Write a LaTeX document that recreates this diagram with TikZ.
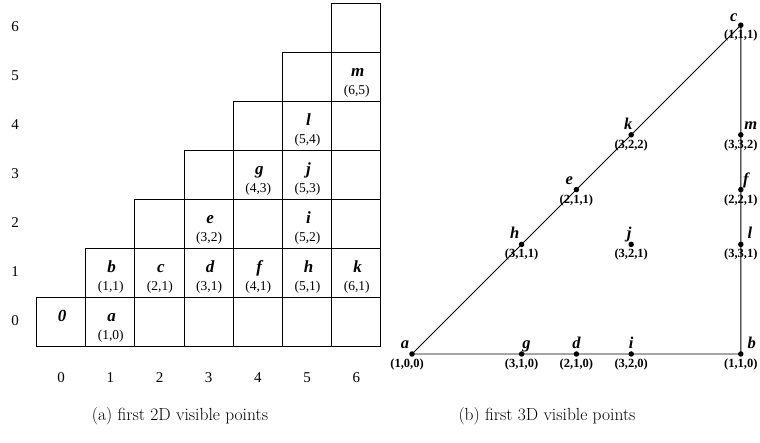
\documentclass[tikz,border=0pt]{standalone}
\usepackage{fontspec}
\newfontfamily\tnr{Liberation Serif}
\begin{document}
\begin{tikzpicture}[x=1pt,y=-1pt,
  cellbox/.style={draw, line width=1pt},
  axlbl/.style={font=\tnr\fontsize{15}{15}\selectfont, anchor=base, inner sep=0pt},
  ptletter/.style={font=\tnr\bfseries\itshape\fontsize{17}{17}\selectfont, anchor=base, inner sep=0pt},
  ptcoord/.style={font=\tnr\fontsize{13.5}{13.5}\selectfont, anchor=base, inner sep=0pt},
  dot/.style={circle, fill=black, inner sep=0pt, minimum size=5.5pt},
  vlet/.style={font=\tnr\bfseries\itshape\fontsize{16.5}{16.5}\selectfont, anchor=base, inner sep=0pt},
  vcoord/.style={font=\tnr\bfseries\fontsize{12.5}{12.5}\selectfont, anchor=base, inner sep=0pt},
  triline/.style={line width=0.9pt},
  captext/.style={font=\fontsize{17.5}{17.5}\selectfont, anchor=base, inner sep=0pt}]
\useasboundingbox (0,0) rectangle (760,443);
% ---------- (a) 2D grid ----------
\foreach \r in {0,...,6} {
  \foreach \c in {\r,...,6} {
    \draw[cellbox] ({36.5+49.2*\c},{346.5-49*(\r+1)}) rectangle +(49.2,49);
  }
}
\foreach \r in {0,...,6} {
  \node[axlbl] (row\r) at (15,{346.5-49*(\r+1)+28.5}) {\r};
}
\foreach \c in {0,...,6} {
  \node[axlbl] (col\c) at ({36.5+49.2*\c+24.6},382) {\c};
}
\node[ptletter] (zero) at (62,321.5) {0};
\foreach \c/\r/\l in {1/0/a,1/1/b,2/1/c,3/1/d,4/1/f,5/1/h,6/1/k,3/2/e,5/2/i,4/3/g,5/3/j,5/4/l,6/5/m} {
  \node[ptletter] (L\l) at ({36.5+49.2*\c+26},{346.5-49*(\r+1)+24}) {\l};
  \node[ptcoord] (C\l) at ({36.5+49.2*\c+25},{346.5-49*(\r+1)+42.5}) {(\c,\r)};
}
% ---------- (b) 3D points ----------
\node[dot] (pa) at (412,354) {};
\node[dot] (pg) at (521.6,354) {};
\node[dot] (pd) at (576.4,354) {};
\node[dot] (pi) at (631.2,354) {};
\node[dot] (pb) at (740.8,354) {};
\node[dot] (ph) at (521.6,244.4) {};
\node[dot] (pe) at (576.4,189.6) {};
\node[dot] (pk) at (631.2,134.8) {};
\node[dot] (pc) at (740.8,25.2) {};
\node[dot] (pj) at (631.2,244.4) {};
\node[dot] (pl) at (740.8,244.4) {};
\node[dot] (pf) at (740.8,189.6) {};
\node[dot] (pm) at (740.8,134.8) {};
\draw[triline] (pa.center) -- (pc.center) -- (pb.center) -- (pa.center);
\foreach \n/\dx/\dy/\cx/\txt in {a/-7/-5.5/-5/{(1,0,0)}, g/5/-5.5/0/{(3,1,0)}, d/0/-5.5/0/{(2,1,0)},
    i/0/-5.5/0/{(3,2,0)}, b/11/-5.5/0/{(1,1,0)}, h/-7/-5.5/0/{(3,1,1)}, j/-2/-5.5/0/{(3,2,1)},
    l/9/-5.5/0/{(3,3,1)}, e/-7/-5.5/0/{(2,1,1)}, k/-3/-5.5/0/{(3,2,2)}, c/-7/-4/0/{(1,1,1)},
    m/10/-5.5/0/{(3,3,2)}, f/5/-5.5/0/{(2,2,1)}} {
  \node[vlet] (v\n) at ([xshift=\dx pt,yshift=-\dy pt]p\n.center) {\n};
  \node[vcoord] (w\n) at ([xshift=\cx pt,yshift=-13.5pt]p\n.center) {\txt};
}
% ---------- captions ----------
\node[captext] (capa) at (180,420) {(a) first 2D visible points};
\node[captext] (capb) at (547,420) {(b) first 3D visible points};
\end{tikzpicture}
\end{document}
